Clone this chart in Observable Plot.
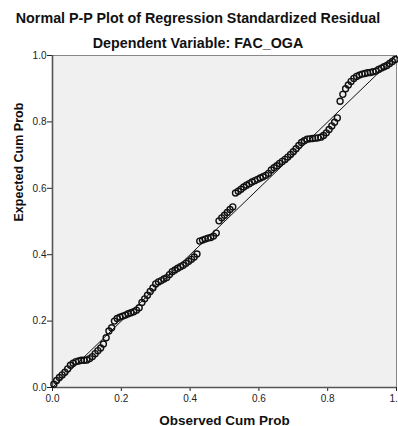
<!DOCTYPE html>
<html><head><meta charset="utf-8">
<script src="https://cdn.jsdelivr.net/npm/d3@7"></script>
<script src="https://cdn.jsdelivr.net/npm/@observablehq/plot@0.6"></script>
<style>
body{margin:0;background:#fff;}
#wrap{width:398px;height:426px;overflow:hidden;}
</style></head><body>
<div id="wrap"></div>
<script>
const titleText = "Normal P-P Plot of Regression Standardized Residual";
const subtitleText = "Dependent Variable: FAC_OGA";
const xLabel = "Observed Cum Prob";
const yLabel = "Expected Cum Prob";
const xTicks = [0, 0.2, 0.4, 0.6, 0.8, 1.0];
const yTicks = [0, 0.2, 0.4, 0.6, 0.8, 1.0];
const diagonal = [[0, 0], [1, 1]];

const obs = [
 .004,.012,.020,.028,.036,.044,.052,.060,.068,.076,
 .084,.092,.100,.108,.116,.124,.132,.140,.148,.156,
 .164,.172,.180,.188,.196,.204,.212,.220,.228,.236,
 .244,.252,.260,.268,.276,.284,.292,.300,.308,.316,
 .324,.332,.340,.348,.356,.364,.372,.380,.388,.396,
 .404,.412,.420,.428,.436,.444,.452,.460,.468,.476,
 .484,.492,.500,.508,.516,.524,.532,.540,.548,.556,
 .564,.572,.580,.588,.596,.604,.612,.620,.628,.636,
 .644,.652,.660,.668,.676,.684,.692,.700,.708,.716,
 .724,.732,.740,.748,.756,.764,.772,.780,.788,.796,
 .804,.812,.820,.828,.836,.844,.852,.860,.868,.876,
 .884,.892,.900,.908,.916,.924,.932,.940,.948,.956,
 .964,.972,.980,.988,.996
];
const expd = [
 .010,.021,.030,.038,.046,.056,.067,.073,.078,.080,
 .082,.082,.083,.087,.093,.102,.111,.119,.131,.150,
 .170,.180,.200,.208,.212,.215,.218,.222,.225,.228,
 .233,.240,.256,.267,.278,.289,.300,.312,.318,.322,
 .327,.331,.340,.349,.354,.359,.364,.368,.374,.380,
 .386,.393,.402,.441,.444,.447,.450,.452,.456,.465,
 .502,.511,.519,.527,.536,.544,.586,.591,.597,.604,
 .609,.614,.619,.623,.627,.631,.635,.639,.645,.655,
 .662,.668,.675,.681,.687,.694,.702,.710,.719,.729,
 .738,.743,.748,.749,.750,.751,.752,.754,.759,.767,
 .777,.788,.799,.812,.862,.883,.900,.911,.922,.931,
 .937,.941,.944,.946,.948,.949,.951,.953,.958,.962,
 .966,.970,.976,.982,.988
];

const points = obs.map((o, i) => ({obs: o, exp: expd[i]}));
const font = "'Liberation Sans', Arial, sans-serif";

const chart = Plot.plot({
  width: 398, height: 426,
  marginLeft: 52, marginRight: 2, marginTop: 55, marginBottom: 39,
  style: {fontFamily: font, fontSize: "10px", background: "#fff", overflow: "visible"},
  x: {domain: [0, 1]},
  y: {domain: [0, 1]},
  marks: [
    Plot.frame({fill: "#f0f0f0", stroke: "#888", strokeWidth: 1}),
    Plot.axisX({ticks: xTicks, tickFormat: d3.format(".1f"), tickSize: 4, tickPadding: 3, color: "#222", label: null, fontSize: 10}),
    Plot.axisY({ticks: yTicks, tickFormat: d3.format(".1f"), tickSize: 5, tickPadding: 1, color: "#222", label: null, fontSize: 10}),
    Plot.ruleX([0], {stroke: "#555", strokeWidth: 1.6}),
    Plot.ruleY([0], {stroke: "#555", strokeWidth: 1.6}),
    Plot.line(diagonal, {x: d => d[0], y: d => d[1], stroke: "#111", strokeWidth: 1}),
    Plot.dot(points, {x: "obs", y: "exp", r: 3, stroke: "#111", fill: "none", strokeWidth: 1.4}),
    Plot.text([xLabel], {frameAnchor: "bottom", lineAnchor: "bottom", dy: 37, fontWeight: "bold", fontSize: 13.5, fill: "#111"}),
    Plot.text([yLabel], {frameAnchor: "left", rotate: -90, dx: -34, fontWeight: "bold", fontSize: 12.5, fill: "#111"})
  ]
});

const svg = d3.select(chart);
svg.append("text").attr("x", 198).attr("y", 23).attr("text-anchor", "middle")
  .attr("font-family", font).attr("font-weight", "bold").attr("font-size", 14.3).attr("fill", "#111").text(titleText);
svg.append("text").attr("x", 198).attr("y", 48).attr("text-anchor", "middle")
  .attr("font-family", font).attr("font-weight", "bold").attr("font-size", 14.3).attr("fill", "#111").text(subtitleText);

document.getElementById("wrap").appendChild(chart);
</script>
</body></html>
